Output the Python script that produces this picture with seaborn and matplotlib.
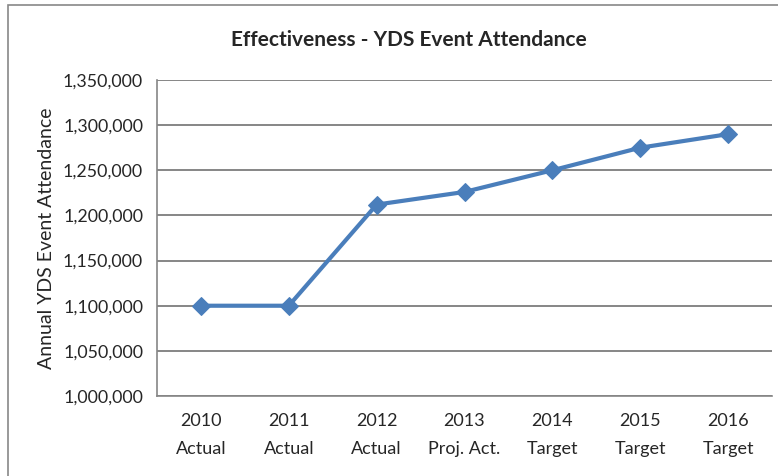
import matplotlib
matplotlib.use('Agg')
import matplotlib.pyplot as plt
import matplotlib.patches as mpatches
from matplotlib.ticker import FuncFormatter, FixedLocator
import seaborn as sns
import pandas as pd

years = ['2010', '2011', '2012', '2013', '2014', '2015', '2016']
status = ['Actual', 'Actual', 'Actual', 'Proj. Act.', 'Target', 'Target', 'Target']
attendance = [1100000, 1100000, 1212000, 1226000, 1250000, 1275000, 1290000]

labels = [f'{y}\n{s}' for y, s in zip(years, status)]
df = pd.DataFrame({'label': labels, 'attendance': attendance})

sns.set_style('white')
plt.rcParams['font.family'] = ['Lato', 'DejaVu Sans']

fig = plt.figure(figsize=(7.78, 4.76), dpi=100)
ax = fig.add_axes([0.2018, 0.168, 0.7905, 0.664])

sns.lineplot(data=df, x='label', y='attendance', ax=ax, color='#4a7ebb',
             linewidth=3, marker='D', markersize=9, markeredgecolor='#4a7ebb',
             sort=False, zorder=3)

ax.set_ylim(1000000, 1350000)
ax.set_yticks(range(1000000, 1350001, 50000))
ax.yaxis.set_major_formatter(FuncFormatter(lambda v, p: f'{int(v):,}'))
ax.set_xlim(-0.5, len(labels) - 0.5)
ax.xaxis.set_minor_locator(FixedLocator([i - 0.5 for i in range(len(labels) + 1)]))
ax.tick_params(axis='x', which='major', length=0, labelsize=13, pad=12)
ax.tick_params(axis='x', which='minor', length=6, width=1, color='#868686', direction='out')
ax.tick_params(axis='y', length=6, width=1, color='#868686', direction='out', labelsize=12.8, pad=4)
for t in ax.get_xticklabels():
    t.set_linespacing(1.95)

ax.grid(axis='y', color='#868686', linewidth=1.4)
ax.set_axisbelow(True)
for side in ['top', 'right']:
    ax.spines[side].set_visible(False)
for side in ['left', 'bottom']:
    ax.spines[side].set_color('#868686')
    ax.spines[side].set_linewidth(1.2)

ax.set_xlabel('')
ax.set_ylabel('Annual YDS Event Attendance', fontsize=14, labelpad=6)
fig.text(0.525, 0.915, 'Effectiveness - YDS Event Attendance', ha='center', va='center',
         fontsize=15, fontweight='bold')

fig.patches.append(mpatches.Rectangle((0.0103, -0.1), 1.2, 1.0895, transform=fig.transFigure,
                                      fill=False, edgecolor='#888888', linewidth=1.2))

fig.savefig('out.png', dpi=100)
